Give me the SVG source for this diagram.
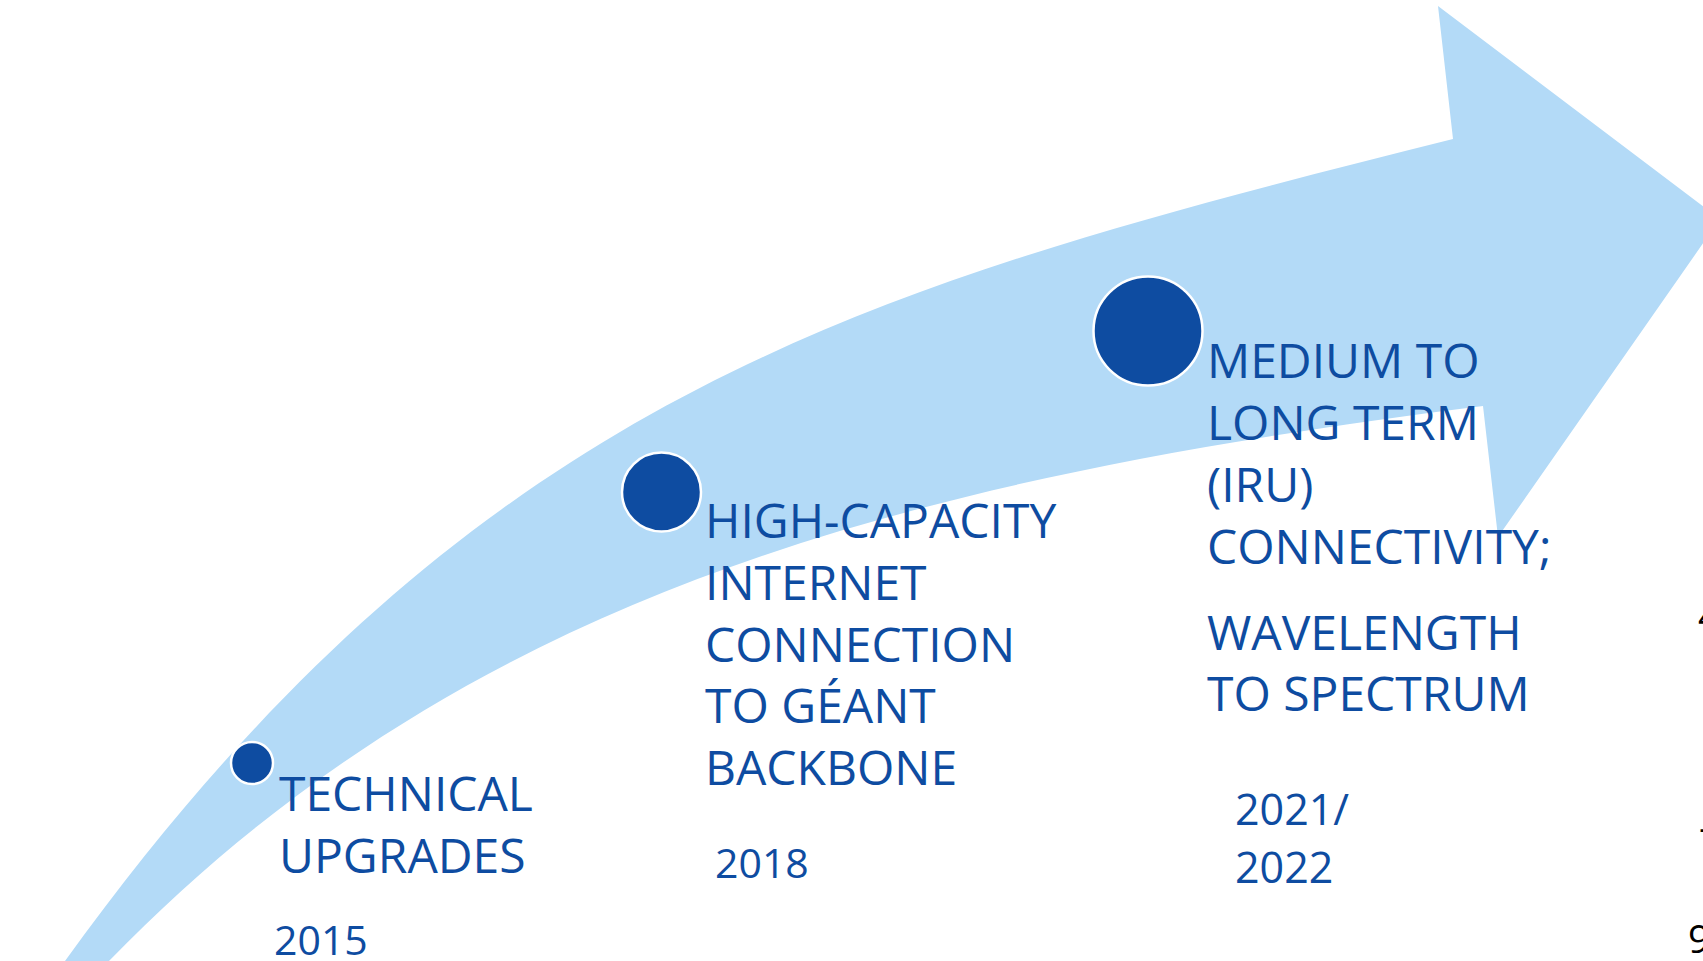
<svg xmlns="http://www.w3.org/2000/svg" width="1703" height="961" viewBox="0 0 1703 961">
  <style>
    .dot { fill: #0E4CA1; stroke: #FFFFFF; stroke-width: 2.5; }
    .lbl { font-family: "Open Sans", "Noto Sans", "Liberation Sans", sans-serif; font-size: 48px; fill: #0E4CA1; }
    .yr { font-family: "Open Sans", "Noto Sans", "Liberation Sans", sans-serif; font-size: 41px; fill: #0E4CA1; }
    .edge { font-family: "Open Sans", "Noto Sans", "Liberation Sans", sans-serif; font-size: 39px; fill: #000000; }
  </style>
  <rect width="1703" height="961" fill="#FFFFFF"/>
  <g id="connectors">
    <path d="M65,961 C478,388 872,285 1453,139 L1438,6 L1720,219 L1498,537 L1483,406 C888,481 459,601 109,961 Z" fill="#B3DAF7"/>
  </g>
  <g id="node-2015">
    <circle class="dot" cx="252" cy="763" r="21"/>
    <text class="lbl"><tspan x="279" y="811">TECHNICAL</tspan><tspan x="279" y="873">UPGRADES</tspan></text>
    <text class="yr" x="274" y="955">2015</text>
  </g>
  <g id="node-2018">
    <circle class="dot" cx="661.5" cy="492" r="39.5"/>
    <text class="lbl"><tspan x="705" y="538">HIGH-CAPACITY</tspan><tspan x="705" y="600">INTERNET</tspan><tspan x="705" y="662">CONNECTION</tspan><tspan x="705" y="723">TO GÉANT</tspan><tspan x="705" y="785">BACKBONE</tspan></text>
    <text class="yr" x="715" y="878">2018</text>
  </g>
  <g id="node-2021">
    <circle class="dot" cx="1148" cy="331" r="54.5"/>
    <text class="lbl"><tspan x="1207" y="378">MEDIUM TO</tspan><tspan x="1207" y="440">LONG TERM</tspan><tspan x="1207" y="502">(IRU)</tspan><tspan x="1207" y="564">CONNECTIVITY;</tspan><tspan x="1207" y="650">WAVELENGTH</tspan><tspan x="1207" y="711">TO SPECTRUM</tspan></text>
    <text class="yr" style="font-size:43px"><tspan x="1235" y="825">2021/</tspan><tspan x="1235" y="883">2022</tspan></text>
  </g>
  <g id="edge-text">
    <text class="edge" x="1698" y="630">4</text>
    <text class="edge" x="1699" y="841">-</text>
    <text class="edge" x="1688" y="953">9</text>
  </g>
</svg>
